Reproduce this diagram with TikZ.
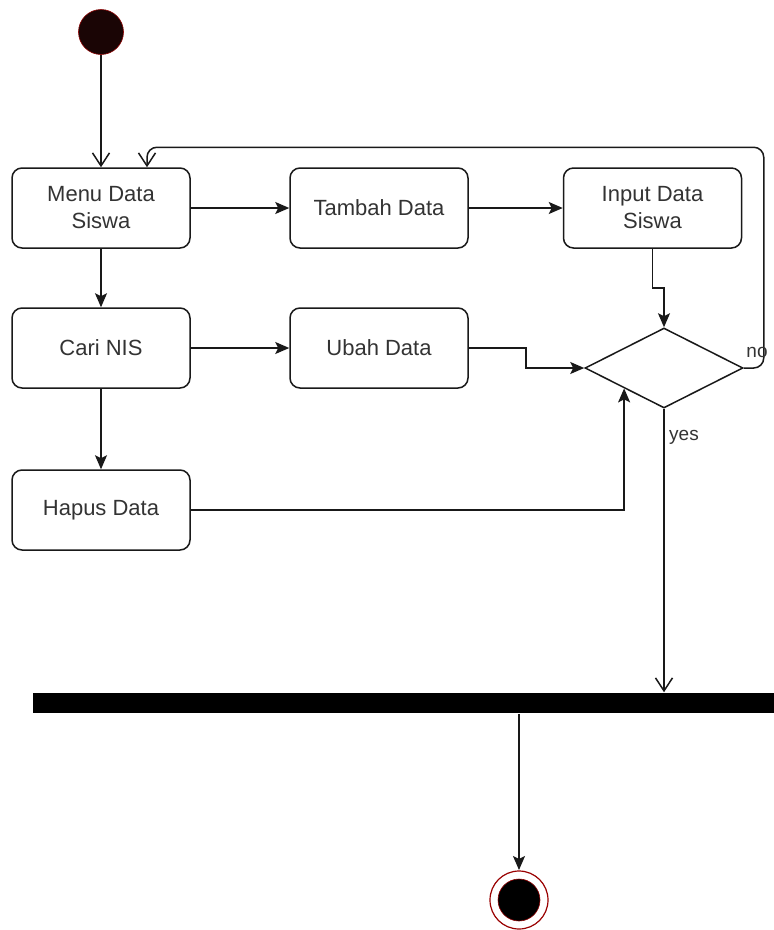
\documentclass[tikz,border=0pt]{standalone}
\usepackage{fontspec}
\setmainfont{Liberation Sans}
\usetikzlibrary{arrows.meta,shapes.geometric,calc}
\definecolor{txt}{HTML}{333333}
\definecolor{dot}{HTML}{1A0505}

\begin{document}
\begin{tikzpicture}[x=1pt, y=-1pt, line width=1.5pt, draw=black!90,
		act/.style={draw, rounded corners=10pt, minimum width=178pt, minimum height=80pt, align=center, text=txt, font=\fontsize{22}{27}\selectfont},
		lbl/.style={text=txt, font=\fontsize{19}{22}\selectfont},
		fl/.style={-{Stealth[length=14pt,width=12pt,inset=3pt]}},
		op/.style={-{Straight Barb[length=13pt,width=17pt]}}]
		\useasboundingbox (0,0) rectangle (774,930);
		\node[circle, fill=dot, draw=red!55!black, line width=0.6pt, minimum size=45pt, inner sep=0pt] (start) at (101,32) {};
		\node[act] (menu) at (101,208) {Menu Data\\Siswa};
		\node[act] (tambah) at (379,208) {Tambah Data};
		\node[act] (input) at (652.5,208) {Input Data\\Siswa};
		\node[act] (cari) at (101,348) {Cari NIS};
		\node[act] (ubah) at (379,348) {Ubah Data};
		\node[act] (hapus) at (101,510) {Hapus Data};
		\node[draw, diamond, minimum width=158pt, minimum height=80pt, inner sep=0pt] (cek) at (664,368) {};
		\node[fill=black, minimum width=741pt, minimum height=20pt, inner sep=0pt] (bar) at (403.5,703) {};
		\node[circle, fill=black, draw=red!55!black, line width=0.6pt, minimum size=42pt, inner sep=0pt, outer sep=9pt] (stop) at (519,900) {};
		\draw[red!60!black, line width=1.2pt] (stop.center) circle[radius=29];
		\draw[op] (start) -- (menu.north);
		\draw[fl] (menu) -- (tambah);
		\draw[fl] (tambah) -- (input);
		\draw[fl] (menu) -- (cari);
		\draw[fl] (cari) -- (ubah);
		\draw[fl] (cari) -- (hapus);
		\draw[fl] (input.south) -- ++(0,39) -| (cek.north);
		\draw[fl] (ubah.east) -- ++(57,0) |- (cek.west);
		\draw[fl] (hapus.east) -| ($(cek.west)!0.5!(cek.south)$);
		\draw[op, rounded corners=10pt] (cek.east) -- ++(20,0) |- ($(menu.north)+(46,-20)$) -- ($(menu.north)+(46,0)$);
		\node[lbl] at (757,352) {no};
		\node[lbl] at (684,437) {yes};
		\draw[op] (cek.south) -- (cek.south |- bar.north);
		\draw[fl] (stop.north |- bar.south) -- (stop.north);
	\end{tikzpicture}
\end{document}
